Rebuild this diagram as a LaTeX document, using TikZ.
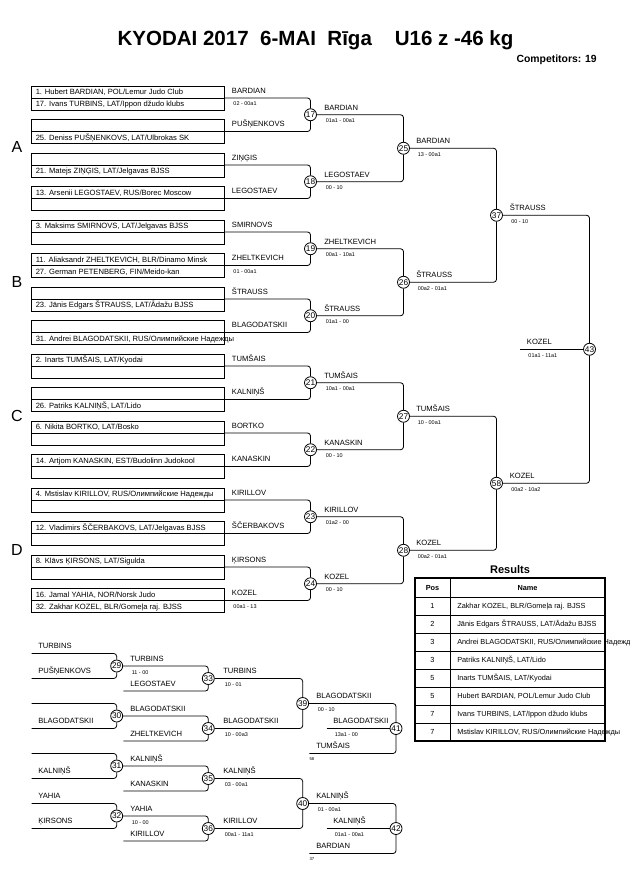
\documentclass[tikz,border=0pt]{standalone}
\usepackage{fontspec}
\setmainfont{Liberation Sans}
\newcommand\fsz[1]{\fontsize{#1}{#1}\selectfont}
% pair box: name, divider y, top text, bottom text
\newcommand\pbox[4]{%
  \node[boxst] (#1) at (127.85,#2) {};
  \draw[divst] (#1.west) -- (#1.east);
  \node[entry] (#1t) at (35.5,#2-3.3) {#3};
  \node[entry] (#1b) at (35.5,#2+8.7) {#4};}
% label: name, x, line y, winner, score
\newcommand\lab[5]{%
  \node[nm] (#1n) at (#2,#3-4.6) {#4};
  \node[sc] (#1s) at (#2+1.5,#3+8) {#5};}
\begin{document}
\begin{tikzpicture}[x=0.75pt,y=-0.75pt,
  boxst/.style={draw, line width=0.7pt, minimum width=144.2pt, minimum height=18pt, inner sep=0pt},
  divst/.style={line width=0.45pt},
  entry/.style={anchor=base west, inner sep=0pt, font=\fsz{5.7}},
  nm/.style={anchor=base west, inner sep=0pt, font=\fsz{5.7}},
  sc/.style={anchor=base west, inner sep=0pt, font=\fsz{4.1}},
  tinyt/.style={anchor=base west, inner sep=0pt, font=\fsz{3.2}},
  mc/.style={circle, draw, line width=0.6pt, minimum size=9pt, inner sep=0pt, fill=white, font=\fsz{6.2}},
  con/.style={line width=0.6pt, rounded corners=2.2pt},
  pool/.style={font=\fsz{12}, inner sep=0pt},
  tline/.style={line width=0.6pt},
  ttext/.style={anchor=base west, inner sep=0pt, font=\fsz{5.5}},
  tpos/.style={anchor=base, inner sep=0pt, font=\fsz{5.5}}]
\useasboundingbox (0,0) rectangle (630,891);
\fill[white] (0,0) rectangle (630,891);

% title
\node[font=\fsz{15.4}\bfseries, anchor=base, inner sep=0pt] (title) at (315.5,46)
  {KYODAI 2017\ \ 6-MAI\ \ Rīga\ \ \ \ U16 z -46 kg};
\node[font=\fsz{7.8}\bfseries, anchor=base east, inner sep=0pt] (comp) at (597,63) {Competitors: 19};

% pool letters
\node[pool] (pA) at (17,147) {A};
\node[pool] (pB) at (17,282) {B};
\node[pool] (pC) at (17,416) {C};
\node[pool] (pD) at (17,550) {D};

% entry boxes
\pbox{b0}{98}{1. Hubert BARDIAN, POL/Lemur Judo Club}{17. Ivans TURBINS, LAT/Ippon džudo klubs}
\pbox{b1}{131.5}{}{25. Deniss PUŠŅENKOVS, LAT/Ulbrokas SK}
\pbox{b2}{165}{}{21. Matejs ZIŅĢIS, LAT/Jelgavas BJSS}
\pbox{b3}{198.5}{13. Arsenii LEGOSTAEV, RUS/Borec Moscow}{}
\pbox{b4}{232}{3. Maksims SMIRNOVS, LAT/Jelgavas BJSS}{}
\pbox{b5}{265.5}{11. Aliaksandr ZHELTKEVICH, BLR/Dinamo Minsk}{27. German PETENBERG, FIN/Meido-kan}
\pbox{b6}{299}{}{23. Jānis Edgars ŠTRAUSS, LAT/Ādažu BJSS}
\pbox{b7}{332.5}{}{31. Andrei BLAGODATSKII, RUS/Олимпийские Надежды}
\pbox{b8}{366}{2. Inarts TUMŠAIS, LAT/Kyodai}{}
\pbox{b9}{399.5}{}{26. Patriks KALNIŅŠ, LAT/Lido}
\pbox{b10}{433}{6. Nikita BORTKO, LAT/Bosko}{}
\pbox{b11}{466.5}{14. Artjom KANASKIN, EST/Budolinn Judokool}{}
\pbox{b12}{500}{4. Mstislav KIRILLOV, RUS/Олимпийские Надежды}{}
\pbox{b13}{533.5}{12. Vladimirs ŠČERBAKOVS, LAT/Jelgavas BJSS}{}
\pbox{b14}{567}{8. Klāvs ĶIRSONS, LAT/Sigulda}{}
\pbox{b15}{600.5}{16. Jamal YAHIA, NOR/Norsk Judo}{32. Zakhar KOZEL, BLR/Gomeļa raj. BJSS}

% round 1 labels
\lab{l0}{231.7}{98}{BARDIAN}{02 - 00a1}
\lab{l1}{231.7}{131.5}{PUŠŅENKOVS}{}
\lab{l2}{231.7}{165}{ZIŅĢIS}{}
\lab{l3}{231.7}{198.5}{LEGOSTAEV}{}
\lab{l4}{231.7}{232}{SMIRNOVS}{}
\lab{l5}{231.7}{265.5}{ZHELTKEVICH}{01 - 00a1}
\lab{l6}{231.7}{299}{ŠTRAUSS}{}
\lab{l7}{231.7}{332.5}{BLAGODATSKII}{}
\lab{l8}{231.7}{366}{TUMŠAIS}{}
\lab{l9}{231.7}{399.5}{KALNIŅŠ}{}
\lab{l10}{231.7}{433}{BORTKO}{}
\lab{l11}{231.7}{466.5}{KANASKIN}{}
\lab{l12}{231.7}{500}{KIRILLOV}{}
\lab{l13}{231.7}{533.5}{ŠČERBAKOVS}{}
\lab{l14}{231.7}{567}{ĶIRSONS}{}
\lab{l15}{231.7}{600.5}{KOZEL}{00a1 - 13}

% circles main bracket
\node[mc] (c17) at (310.5,114.75) {17};
\node[mc] (c18) at (310.5,181.75) {18};
\node[mc] (c19) at (310.5,248.75) {19};
\node[mc] (c20) at (310.5,315.75) {20};
\node[mc] (c21) at (310.5,382.75) {21};
\node[mc] (c22) at (310.5,449.75) {22};
\node[mc] (c23) at (310.5,516.75) {23};
\node[mc] (c24) at (310.5,583.75) {24};
\node[mc] (c25) at (403.5,148.25) {25};
\node[mc] (c26) at (403.5,282.25) {26};
\node[mc] (c27) at (403.5,416.25) {27};
\node[mc] (c28) at (403.5,550.25) {28};
\node[mc] (c37) at (496.5,215.25) {37};
\node[mc] (c58) at (496.5,483.25) {58};
\node[mc] (c43) at (589.5,349.25) {43};

% round 1 connectors
\foreach \a/\b/\c in {b0/b1/c17,b2/b3/c18,b4/b5/c19,b6/b7/c20,b8/b9/c21,b10/b11/c22,b12/b13/c23,b14/b15/c24}{
  \draw[con] (\a.east) -| (\c.north);
  \draw[con] (\c.south) |- (\b.east);}
% later rounds
\foreach \a/\b/\c in {c17/c18/c25,c19/c20/c26,c21/c22/c27,c23/c24/c28,c25/c26/c37,c27/c28/c58,c37/c58/c43}{
  \draw[con] (\a.east) -| (\c.north);
  \draw[con] (\c.south) |- (\b.east);}
\coordinate (fin) at (520,349.25);
\draw[con] (fin) -- (c43.west);

% round labels
\lab{m17}{324}{114.75}{BARDIAN}{01a1 - 00a1}
\lab{m18}{324}{181.75}{LEGOSTAEV}{00 - 10}
\lab{m19}{324}{248.75}{ZHELTKEVICH}{00a1 - 10a1}
\lab{m20}{324}{315.75}{ŠTRAUSS}{01a1 - 00}
\lab{m21}{324}{382.75}{TUMŠAIS}{10a1 - 00a1}
\lab{m22}{324}{449.75}{KANASKIN}{00 - 10}
\lab{m23}{324}{516.75}{KIRILLOV}{01a2 - 00}
\lab{m24}{324}{583.75}{KOZEL}{00 - 10}
\lab{m25}{416}{148.25}{BARDIAN}{13 - 00a1}
\lab{m26}{416}{282.25}{ŠTRAUSS}{00a2 - 01a1}
\lab{m27}{416}{416.25}{TUMŠAIS}{10 - 00a1}
\lab{m28}{416}{550.25}{KOZEL}{00a2 - 01a1}
\lab{m37}{509.5}{215.25}{ŠTRAUSS}{00 - 10}
\lab{m58}{509.5}{483.25}{KOZEL}{00a2 - 10a2}
\lab{m43}{526.7}{349.25}{KOZEL}{01a1 - 11a1}

% results table
\node[font=\fsz{8.3}\bfseries, anchor=base, inner sep=0pt] (restitle) at (510,573) {Results};
\foreach \yy in {597,615,633,651,669,687,705,723}{\draw[tline] (415,\yy) -- (605,\yy);}
\draw[tline] (450,578) -- (450,741);
\draw[line width=1.4pt] (415,578) rectangle (605,741);
\node[tpos, font=\fsz{5.5}\bfseries] (hpos) at (432.5,590) {Pos};
\node[tpos, font=\fsz{5.5}\bfseries] (hname) at (527.5,590) {Name};
\node[tpos] (p1) at (432.5,608.6) {1};
\node[tpos] (p2) at (432.5,626.6) {2};
\node[tpos] (p3) at (432.5,644.6) {3};
\node[tpos] (p4) at (432.5,662.6) {3};
\node[tpos] (p5) at (432.5,680.6) {5};
\node[tpos] (p6) at (432.5,698.6) {5};
\node[tpos] (p7) at (432.5,716.6) {7};
\node[tpos] (p8) at (432.5,734.6) {7};
\node[ttext] (n1) at (457,608.6) {Zakhar KOZEL, BLR/Gomeļa raj. BJSS};
\node[ttext] (n2) at (457,626.6) {Jānis Edgars ŠTRAUSS, LAT/Ādažu BJSS};
\node[ttext] (n3) at (457,644.6) {Andrei BLAGODATSKII, RUS/Олимпийские Надежды};
\node[ttext] (n4) at (457,662.6) {Patriks KALNIŅŠ, LAT/Lido};
\node[ttext] (n5) at (457,680.6) {Inarts TUMŠAIS, LAT/Kyodai};
\node[ttext] (n6) at (457,698.6) {Hubert BARDIAN, POL/Lemur Judo Club};
\node[ttext] (n7) at (457,716.6) {Ivans TURBINS, LAT/Ippon džudo klubs};
\node[ttext] (n8) at (457,734.6) {Mstislav KIRILLOV, RUS/Олимпийские Надежды};

% repechage
\node[mc] (c29) at (116.7,666) {29};
\node[mc] (c30) at (116.7,716) {30};
\node[mc] (c31) at (116.7,766) {31};
\node[mc] (c32) at (116.7,816) {32};
\node[mc] (c33) at (208.3,678.5) {33};
\node[mc] (c34) at (208.3,728.5) {34};
\node[mc] (c35) at (208.3,778.5) {35};
\node[mc] (c36) at (208.3,828.5) {36};
\node[mc] (c39) at (302.7,703.5) {39};
\node[mc] (c40) at (302.7,803.5) {40};
\node[mc] (c41) at (396,728.5) {41};
\node[mc] (c42) at (396,828.5) {42};

\coordinate (r29a) at (31.7,653.5); \coordinate (r29b) at (31.7,678.5);
\coordinate (r30a) at (31.7,703.5); \coordinate (r30b) at (31.7,728.5);
\coordinate (r31a) at (31.7,753.5); \coordinate (r31b) at (31.7,778.5);
\coordinate (r32a) at (31.7,803.5); \coordinate (r32b) at (31.7,828.5);
\coordinate (r33b) at (123.3,691); \coordinate (r34b) at (123.3,741);
\coordinate (r35b) at (123.3,791); \coordinate (r36b) at (123.3,841);
\coordinate (r41b) at (309.3,753.5); \coordinate (r42b) at (309.3,853.5);
\coordinate (r41in) at (326.7,728.5); \coordinate (r42in) at (326.7,828.5);

\foreach \a/\b/\c in {r29a/r29b/c29,r30a/r30b/c30,r31a/r31b/c31,r32a/r32b/c32}{
  \draw[con] (\a) -| (\c.north);
  \draw[con] (\c.south) |- (\b);}
\foreach \a/\b/\c in {c29/r33b/c33,c30/r34b/c34,c31/r35b/c35,c32/r36b/c36,c39/r41b/c41,c40/r42b/c42}{
  \draw[con] (\a.east) -| (\c.north);
  \draw[con] (\c.south) |- (\b);}
\foreach \a/\b/\c in {c33/c34/c39,c35/c36/c40}{
  \draw[con] (\a.east) -| (\c.north);
  \draw[con] (\c.south) |- (\b.east);}
\draw[con] (r41in) -- (c41.west);
\draw[con] (r42in) -- (c42.west);

\node[nm] (q1) at (38,653.5-4.6) {TURBINS};
\node[nm] (q2) at (38,678.5-4.6) {PUŠŅENKOVS};
\node[nm] (q3) at (38,728.5-4.6) {BLAGODATSKII};
\node[nm] (q4) at (38,778.5-4.6) {KALNIŅŠ};
\node[nm] (q5) at (38,803.5-4.6) {YAHIA};
\node[nm] (q6) at (38,828.5-4.6) {ĶIRSONS};

\lab{s29}{130}{666}{TURBINS}{11 - 00}
\lab{s30}{130}{716}{BLAGODATSKII}{}
\lab{s31}{130}{766}{KALNIŅŠ}{}
\lab{s32}{130}{816}{YAHIA}{10 - 00}
\node[nm] (q7) at (130,691-4.6) {LEGOSTAEV};
\node[nm] (q8) at (130,741-4.6) {ZHELTKEVICH};
\node[nm] (q9) at (130,791-4.6) {KANASKIN};
\node[nm] (q10) at (130,841-4.6) {KIRILLOV};

\lab{s33}{223}{678.5}{TURBINS}{10 - 01}
\lab{s34}{223}{728.5}{BLAGODATSKII}{10 - 00a3}
\lab{s35}{223}{778.5}{KALNIŅŠ}{03 - 00a1}
\lab{s36}{223}{828.5}{KIRILLOV}{00a1 - 11a1}

\lab{s39}{316}{703.5}{BLAGODATSKII}{00 - 10}
\lab{s40}{316}{803.5}{KALNIŅŠ}{01 - 00a1}
\node[nm] (q11) at (316,753.5-4.6) {TUMŠAIS};
\node[tinyt] (q12) at (309.3,753.5+6.5) {58};
\node[nm] (q13) at (316,853.5-4.6) {BARDIAN};
\node[tinyt] (q14) at (309.3,853.5+6.5) {37};

\lab{s41}{333}{728.5}{BLAGODATSKII}{13a1 - 00}
\lab{s42}{333}{828.5}{KALNIŅŠ}{01a1 - 00a1}
\end{tikzpicture}
\end{document}
